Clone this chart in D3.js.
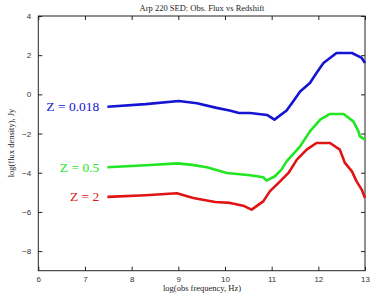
<!DOCTYPE html>
<html><head><meta charset="utf-8">
<script src="https://cdn.jsdelivr.net/npm/d3@7"></script>
<style>body{margin:0;background:#fff}svg{display:block}</style>
</head><body>
<script>
const xTicks = [6,7,8,9,10,11,12,13];
const yTicks = [-8,-6,-4,-2,0,2,4];
const seriesNames = ["Z = 0.018","Z = 0.5","Z = 2"];
const seriesColors = ["#1414d2","#22e622","#e01414"];
const blueX = [7.48,8.3,9.01,9.4,9.82,10.1,10.3,10.54,10.9,11.06,11.32,11.46,11.61,11.82,11.96,12.11,12.39,12.72,12.93,13];
const blueY = [-0.63,-0.5,-0.34,-0.45,-0.69,-0.82,-0.95,-0.95,-1.05,-1.29,-0.82,-0.36,0.15,0.58,1.09,1.6,2.11,2.11,1.86,1.6];
const greenX = [7.48,8.3,8.98,9.3,9.61,10.04,10.32,10.54,10.82,10.89,11.07,11.21,11.32,11.61,11.82,12.04,12.25,12.54,12.75,12.86,12.89,13];
const greenY = [-3.72,-3.62,-3.52,-3.6,-3.72,-4.01,-4.08,-4.13,-4.23,-4.4,-4.18,-3.84,-3.42,-2.65,-1.89,-1.29,-1.0,-1.0,-1.38,-1.89,-2.14,-2.31];
const redX = [7.48,8.3,8.97,9.32,9.79,10.11,10.39,10.57,10.82,10.96,11.18,11.36,11.54,11.75,11.96,12.25,12.46,12.57,12.72,12.82,12.93,13];
const redY = [-5.23,-5.15,-5.05,-5.29,-5.49,-5.54,-5.68,-5.88,-5.46,-4.95,-4.44,-4.01,-3.33,-2.82,-2.48,-2.48,-2.82,-3.5,-3.93,-4.44,-4.86,-5.29];
const seriesX = [blueX, greenX, redX];
const seriesY = [blueY, greenY, redY];

const W = 380, H = 296;
const m = {l:38.3, r:15, t:16, b:25.3};
const svg = d3.select("body").append("svg").attr("width",W).attr("height",H);
const x = d3.scaleLinear().domain([6,13]).range([m.l, W-m.r]);
const y = d3.scaleLinear().domain([-9,4]).range([H-m.b, m.t]);

svg.append("rect").attr("x",x(6)).attr("y",y(4)).attr("width",x(13)-x(6)).attr("height",y(-9)-y(4))
  .attr("fill","none").attr("stroke","#222").attr("stroke-width",1);

const tickFont = "'Liberation Sans', Arial, sans-serif";
function styleAxis(g, showText){
  g.select(".domain").remove();
  g.selectAll(".tick line").attr("stroke","#222");
  g.selectAll(".tick text").attr("font-family",tickFont).attr("font-size",8).attr("fill","#333");
  if(!showText) g.selectAll(".tick text").remove();
}
svg.append("g").attr("transform",`translate(0,${y(-9)})`)
  .call(d3.axisBottom(x).tickValues(xTicks).tickSize(-4).tickPadding(6).tickFormat(d3.format("d")))
  .call(g=>styleAxis(g,true));
svg.append("g").attr("transform",`translate(0,${y(4)})`)
  .call(d3.axisTop(x).tickValues(xTicks).tickSize(-4).tickFormat(""))
  .call(g=>styleAxis(g,false));
svg.append("g").attr("transform",`translate(${x(6)},0)`)
  .call(d3.axisLeft(y).tickValues(yTicks).tickSize(-4).tickPadding(7).tickFormat(d3.format("d")))
  .call(g=>styleAxis(g,true));
svg.append("g").attr("transform",`translate(${x(13)},0)`)
  .call(d3.axisRight(y).tickValues(yTicks).tickSize(-4).tickFormat(""))
  .call(g=>styleAxis(g,false));

const line = d3.line().x(d=>x(d[0])).y(d=>y(d[1]));
seriesX.forEach((xs,i)=>{
  const pts = xs.map((v,j)=>[v, seriesY[i][j]]);
  svg.append("path").attr("d",line(pts)).attr("fill","none")
    .attr("stroke",seriesColors[i]).attr("stroke-width",2.6).attr("stroke-linejoin","round");
  svg.append("text").attr("x",x(7.48)-8).attr("y",y(seriesY[i][0])+4.5)
    .attr("text-anchor","end").attr("font-family","'Liberation Serif', 'Times New Roman', serif")
    .attr("font-size",13.5).attr("fill",seriesColors[i]).text(seriesNames[i]);
});

const serif = "'Liberation Serif', 'Times New Roman', serif";
svg.append("text").attr("x",202).attr("y",11).attr("text-anchor","middle")
  .attr("font-family",serif).attr("font-size",8.5).attr("fill","#222").text("Arp 220 SED: Obs. Flux vs Redshift");
svg.append("text").attr("x",202).attr("y",291).attr("text-anchor","middle")
  .attr("font-family",serif).attr("font-size",8.5).attr("fill","#222").text("log(obs frequency, Hz)");
svg.append("text").attr("transform",`translate(14,143) rotate(-90)`).attr("text-anchor","middle")
  .attr("font-family",serif).attr("font-size",8.5).attr("fill","#222").text("log(flux density), Jy");
</script>
</body></html>
